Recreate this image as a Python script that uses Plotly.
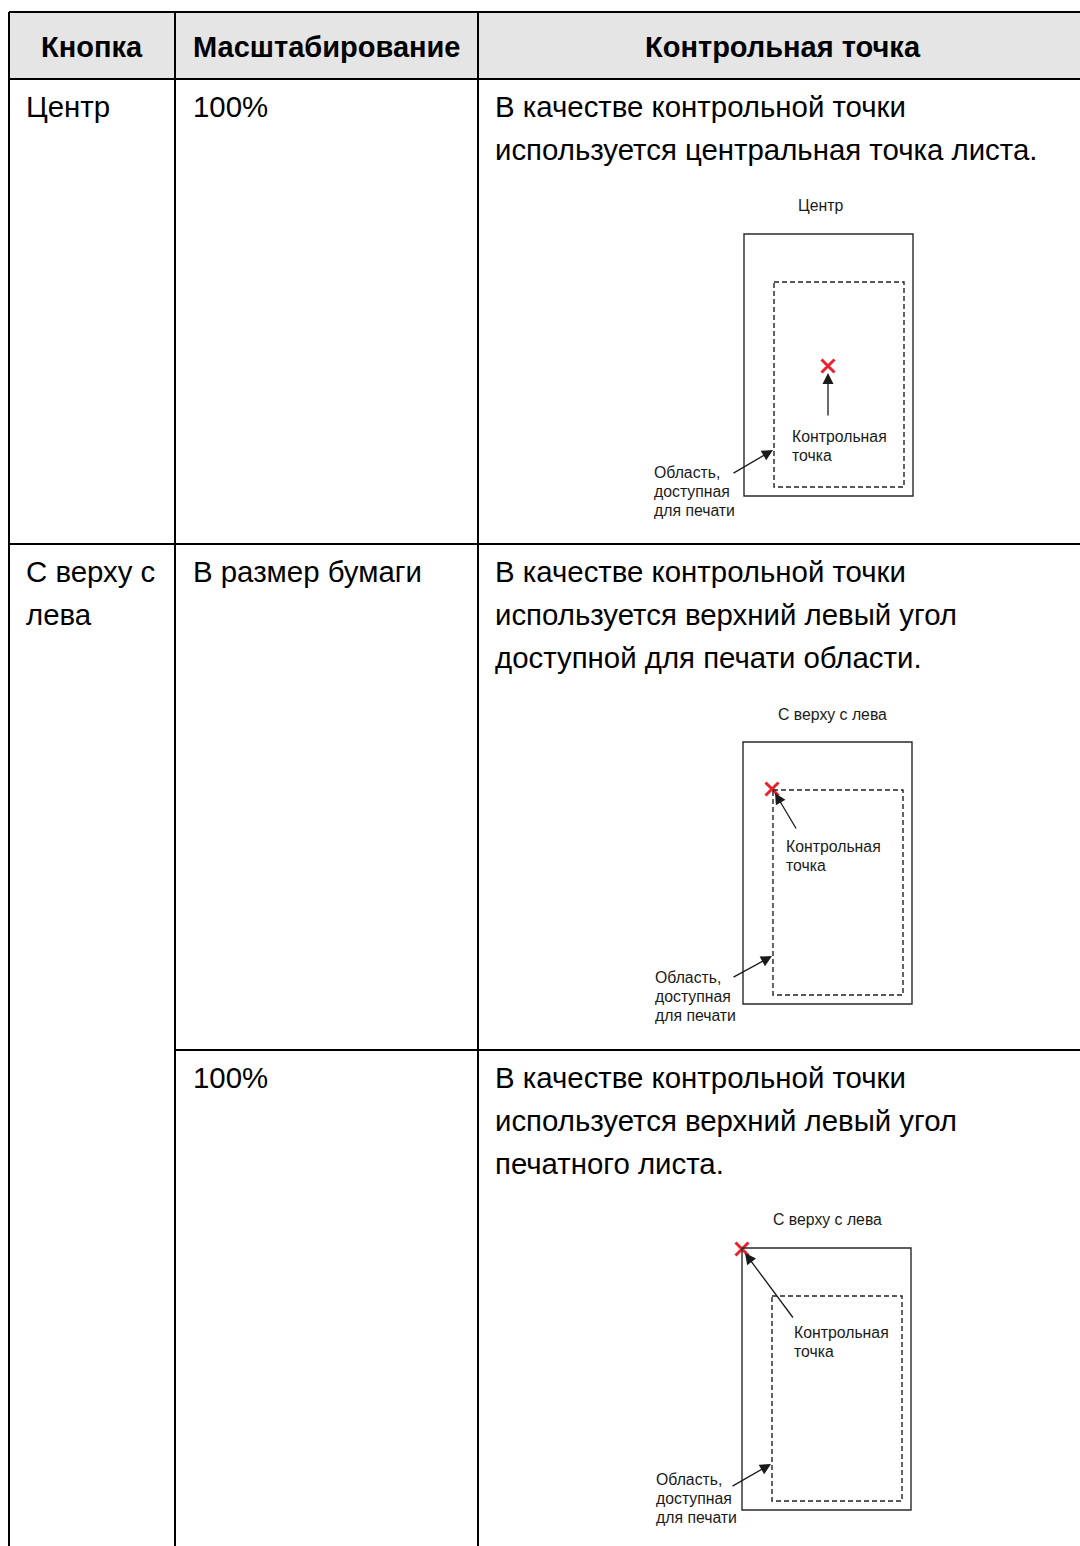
import plotly.graph_objects as go

# ---------------- data ----------------
headers = ["Кнопка", "Масштабирование", "Контрольная точка"]
buttons = [["Центр"], ["С верху с", "лева"]]          # button column (second spans 2 rows)
button_rows = [0, 1]                                    # row index where each button starts
scalings = [["100%"], ["В размер бумаги"], ["100%"]]
descriptions = [
    ["В качестве контрольной точки", "используется центральная точка листа."],
    ["В качестве контрольной точки", "используется верхний левый угол", "доступной для печати области."],
    ["В качестве контрольной точки", "используется верхний левый угол", "печатного листа."],
]
diagram_titles = ["Центр", "С верху с лева", "С верху с лева"]
ref_label = ["Контрольная", "точка"]
area_label = ["Область,", "доступная", "для печати"]

# ---------------- layout constants ----------------
W, H = 1080, 1546
col_x = [9, 175, 478, 1080]
header_top, header_bot = 12, 79
row_tops = [79, 544, 1050]
row_bottom_end = H
pad = 16
line_step = 43
first_line = 27
FONT = "Liberation Sans, Arial, sans-serif"
BODY = 29.4
HEAD = 29
SMALL = 15.8

# per diagram geometry (relative to paper top-left)
paper_origin = [(744, 234), (743, 742), (742, 1248)]
paper_w, paper_h = 169, 262
print_box = (30, 48, 160, 253)  # x0, y0, x1, y1 relative
title_off = [(76, -29), (89, -28), (85, -29)]
cross_off = [(84, 132), (29, 47), (0, 1)]
ref_arrow = [((84, 183), (84, 139)), ((54, 88), (32, 51)), ((52, 71), (3, 5))]
ref_label_off = [(46, 202), (41, 104), (50, 84)]
area_arrow = [((-12, 240), (29, 216)), ((-11, 236), (29, 214)), ((-11, 239), (29, 216))]
area_label_off = [(-92, 238), (-90, 235), (-88, 231)]
small_step = 19.3

fig = go.Figure()
shapes = []
ann = []

# header background
shapes.append(dict(type="rect", x0=col_x[0], x1=col_x[-1], y0=header_top, y1=header_bot,
                   fillcolor="#e5e5e5", line=dict(width=0), layer="below"))

def hline(x0, x1, y):
    shapes.append(dict(type="line", x0=x0, x1=x1, y0=y, y1=y, line=dict(color="black", width=2)))

def vline(x, y0, y1):
    shapes.append(dict(type="line", x0=x, x1=x, y0=y0, y1=y1, line=dict(color="black", width=2)))

hline(col_x[0], col_x[-1], header_top)
hline(col_x[0], col_x[-1], header_bot)
hline(col_x[0], col_x[-1], row_tops[1])
hline(col_x[1], col_x[-1], row_tops[2])
for x in col_x[:3]:
    vline(x, header_top, row_bottom_end + 5)

# header texts
head_shift = [0, 0, 4]
for i, h in enumerate(headers):
    ann.append(dict(x=(col_x[i] + col_x[i + 1]) / 2 + head_shift[i], y=(header_top + header_bot) / 2 + 1,
                    text="<b>%s</b>" % h, showarrow=False, xanchor="center", yanchor="middle",
                    font=dict(family=FONT, size=HEAD, color="black")))

def text_lines(lines, x, top, size=BODY, step=line_step, first=first_line, color="black"):
    for j, t in enumerate(lines):
        ann.append(dict(x=x, y=top + first + j * step, text=t, showarrow=False,
                        xanchor="left", yanchor="middle",
                        font=dict(family=FONT, size=size, color=color)))

for b, r in zip(buttons, button_rows):
    text_lines(b, col_x[0] + pad - 1, row_tops[r])
for r, s in enumerate(scalings):
    text_lines(s, col_x[1] + pad, row_tops[r])
for r, d in enumerate(descriptions):
    text_lines(d, col_x[2] + pad - 1, row_tops[r])

# diagrams
cross_x, cross_y = [], []
for k in range(3):
    ox, oy = paper_origin[k]
    shapes.append(dict(type="rect", x0=ox, y0=oy, x1=ox + paper_w, y1=oy + paper_h,
                       line=dict(color="#2a2a2a", width=1.4)))
    shapes.append(dict(type="rect", x0=ox + print_box[0], y0=oy + print_box[1],
                       x1=ox + print_box[2], y1=oy + print_box[3],
                       line=dict(color="#222222", width=1.4, dash="5px,3px")))
    tx, ty = title_off[k]
    ann.append(dict(x=ox + tx, y=oy + ty, text=diagram_titles[k], showarrow=False,
                    xanchor="center", yanchor="middle",
                    font=dict(family=FONT, size=SMALL, color="#1a1a1a")))
    cross_x.append(ox + cross_off[k][0])
    cross_y.append(oy + cross_off[k][1])
    (t0x, t0y), (h0x, h0y) = ref_arrow[k]
    ann.append(dict(x=ox + h0x, y=oy + h0y, ax=ox + t0x, ay=oy + t0y, axref="x", ayref="y",
                    xref="x", yref="y", text="", showarrow=True, arrowhead=2, arrowsize=1.7,
                    arrowwidth=1.3, arrowcolor="#1a1a1a", standoff=0))
    (t1x, t1y), (h1x, h1y) = area_arrow[k]
    ann.append(dict(x=ox + h1x, y=oy + h1y, ax=ox + t1x, ay=oy + t1y, axref="x", ayref="y",
                    xref="x", yref="y", text="", showarrow=True, arrowhead=2, arrowsize=1.7,
                    arrowwidth=1.3, arrowcolor="#1a1a1a", standoff=0))
    lx, ly = ref_label_off[k]
    text_lines(ref_label, ox + lx, oy + ly, size=SMALL, step=small_step, first=0, color="#1a1a1a")
    ax_, ay_ = area_label_off[k]
    text_lines(area_label, ox + ax_, oy + ay_, size=SMALL, step=small_step, first=0, color="#1a1a1a")

fig.add_trace(go.Scatter(x=cross_x, y=cross_y, mode="markers", hoverinfo="skip",
                         marker=dict(symbol="x-thin", size=13, line=dict(color="#e8232d", width=3)),
                         showlegend=False))

fig.update_layout(
    width=W, height=H, margin=dict(l=0, r=0, t=0, b=0),
    paper_bgcolor="white", plot_bgcolor="white",
    shapes=shapes, annotations=ann, showlegend=False,
    xaxis=dict(range=[0, W], visible=False, fixedrange=True),
    yaxis=dict(range=[H, 0], visible=False, fixedrange=True),
)
fig.write_html("out.html", config={"displayModeBar": False},
               post_script="document.body.style.margin='0';document.body.style.overflow='hidden';")
